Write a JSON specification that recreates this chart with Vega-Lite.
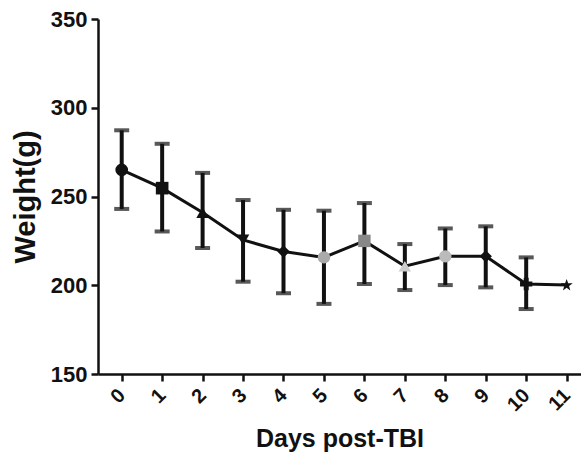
{
  "$schema": "https://vega.github.io/schema/vega-lite/v6.json",
  "autosize": "none",
  "width": 483,
  "height": 355,
  "padding": {"left": 98, "top": 19, "right": 0, "bottom": 98},
  "background": "white",
  "config": {
    "view": {"stroke": null},
    "axis": {"labelFont": "Liberation Sans", "titleFont": "Liberation Sans", "labelFontWeight": "bold", "titleFontWeight": "bold", "labelColor": "#111", "titleColor": "#111", "domainColor": "#111", "tickColor": "#111", "domainWidth": 2.5, "tickWidth": 2.5, "grid": false}
  },
  "data": {"values": [
    {"day": 0, "mean": 265, "lo": 243, "hi": 287.3},
    {"day": 1, "mean": 254.7, "lo": 230.3, "hi": 279.7},
    {"day": 2, "mean": 241, "lo": 221, "hi": 263.3},
    {"day": 3, "mean": 225.5, "lo": 202, "hi": 248},
    {"day": 4, "mean": 219, "lo": 195.5, "hi": 242.5},
    {"day": 5, "mean": 215.7, "lo": 189.5, "hi": 242},
    {"day": 6, "mean": 225, "lo": 200.7, "hi": 246.3},
    {"day": 7, "mean": 210.7, "lo": 197.3, "hi": 223.2},
    {"day": 8, "mean": 216.3, "lo": 200.1, "hi": 232},
    {"day": 9, "mean": 216.3, "lo": 198.8, "hi": 233.2},
    {"day": 10, "mean": 200.7, "lo": 186.6, "hi": 215.7},
    {"day": 11, "mean": 200.1, "lo": null, "hi": null}
  ]},
  "encoding": {
    "x": {"field": "day", "type": "quantitative",
      "scale": {"domain": [-0.586, 11.355], "nice": false, "zero": false},
      "axis": {"values": [0,1,2,3,4,5,6,7,8,9,10,11], "title": "Days post-TBI", "titleFontSize": 25, "titlePadding": 12, "labelFontSize": 20, "labelAngle": -45, "labelAlign": "right", "labelBaseline": "middle", "labelPadding": 11, "tickSize": 7, "labelFlush": false, "labelOverlap": false}}
  },
  "layer": [
    {"mark": {"type": "line", "color": "#111", "strokeWidth": 3},
     "encoding": {"y": {"field": "mean", "type": "quantitative",
        "scale": {"domain": [150, 350], "nice": false, "zero": false},
        "axis": {"values": [150, 200, 250, 300, 350], "title": "Weight(g)", "titleFontSize": 29, "titlePadding": 10, "labelFontSize": 22, "labelPadding": 4, "tickSize": 7}}}},
    {"transform": [{"filter": "datum.lo != null"}],
     "mark": {"type": "rule", "color": "#111", "strokeWidth": 4},
     "encoding": {"y": {"field": "lo", "type": "quantitative"}, "y2": {"field": "hi"}}},
    {"transform": [{"filter": "datum.lo != null"}],
     "mark": {"type": "tick", "color": "#111", "orient": "horizontal", "size": 15, "thickness": 4},
     "encoding": {"y": {"field": "lo", "type": "quantitative"}}},
    {"transform": [{"filter": "datum.lo != null"}],
     "mark": {"type": "tick", "color": "#111", "orient": "horizontal", "size": 15, "thickness": 4},
     "encoding": {"y": {"field": "hi", "type": "quantitative"}}},
    {"mark": {"type": "point", "filled": true, "opacity": 1},
     "encoding": {
       "y": {"field": "mean", "type": "quantitative"},
       "shape": {"field": "day", "type": "ordinal", "legend": null,
         "scale": {"domain": [0,1,2,3,4,5,6,7,8,9,10,11], "range": ["circle","square","triangle-up","triangle-down","diamond","circle","square","triangle-up","circle","diamond","cross","M0,-1L0.25,-0.3L1,-0.3L0.4,0.15L0.6,0.9L0,0.45L-0.6,0.9L-0.4,0.15L-1,-0.3L-0.25,-0.3Z"]}},
       "color": {"field": "day", "type": "ordinal", "legend": null,
         "scale": {"domain": [0,1,2,3,4,5,6,7,8,9,10,11], "range": ["#111","#111","#111","#111","#111","#aaa","#888","#ccc","#bbb","#111","#111","#111"]}},
       "size": {"field": "day", "type": "ordinal", "legend": null,
         "scale": {"domain": [0,1,2,3,4,5,6,7,8,9,10,11], "range": [160,150,60,60,60,120,150,60,100,140,40,50]}}
     }}
  ]
}
